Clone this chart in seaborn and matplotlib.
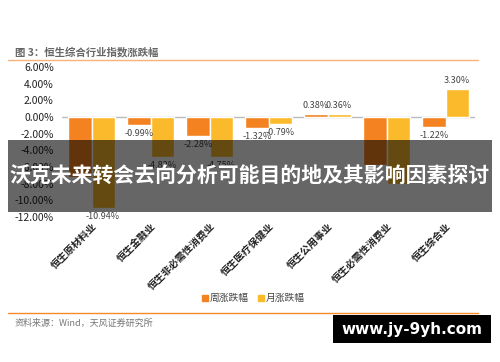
import matplotlib
matplotlib.use('Agg')
from matplotlib.lines import Line2D
from matplotlib.patches import Rectangle
import matplotlib.pyplot as plt
import pandas as pd
import seaborn as sns

categories = ['恒生原材料业', '恒生金融业', '恒生非必需性消费业', '恒生医疗保健业',
              '恒生公用事业', '恒生必需性消费业', '恒生综合业']
weekly = [-7.2, -0.99, -2.28, -1.32, 0.38, -5.8, -1.22]
monthly = [-10.94, -4.82, -4.75, -0.79, 0.36, -8.0, 3.30]
series_names = ['周涨跌幅', '月涨跌幅']
yticks = [6, 4, 2, 0, -2, -4, -6, -8, -10, -12]

# labels hidden under the banner in the source are left out
hidden = {('周涨跌幅', '恒生原材料业'), ('周涨跌幅', '恒生必需性消费业'),
          ('月涨跌幅', '恒生必需性消费业')}

my_palette = ['#F58220', '#FBBA2C']

df = pd.DataFrame({'category': categories * 2,
                   'series': [series_names[0]] * 7 + [series_names[1]] * 7,
                   'value': weekly + monthly})

sns.set_theme(style='white')
plt.rcParams['font.family'] = ['Noto Sans CJK SC', 'DejaVu Sans']
plt.rcParams['axes.unicode_minus'] = False

fig = plt.figure(figsize=(5, 3.62), dpi=100)
ax = fig.add_axes([0.124, 0.4006, 0.826, 0.4144])

sns.barplot(ax=ax, data=df, x='category', y='value', hue='series',
            hue_order=series_names, palette=my_palette, width=0.78,
            saturation=1, legend=False)

ax.set_ylim(-12, 6)
ax.set_yticks(yticks)
ax.set_yticklabels([f'{t:.2f}%' for t in yticks], fontsize=7.5, color='#222222')
ax.set_xlabel('')
ax.set_ylabel('')
ax.tick_params(axis='y', length=0, pad=6)
ax.tick_params(axis='x', length=0, pad=3)
for s in ax.spines.values():
    s.set_visible(False)
ax.axhline(0, color='#BBBBBB', linewidth=1, zorder=0)
ax.set_xticks(range(len(categories)))
ax.set_xticklabels(categories, rotation=45, ha='right', rotation_mode='anchor',
                   fontsize=7.2, fontweight='bold', color='#222222')

for cont, name in zip(ax.containers, series_names):
    labels = []
    for bar, cat in zip(cont, categories):
        if (name, cat) in hidden:
            labels.append('')
        else:
            labels.append(f'{bar.get_height():.2f}%')
    ax.bar_label(cont, labels=labels, padding=3, fontsize=6.5, color='#444444')

handles = [Line2D([0], [0], marker='s', linestyle='', color=c, markersize=4)
           for c in my_palette]
fig.legend(handles, series_names, loc='center', bbox_to_anchor=(0.505, 0.177),
           ncol=2, frameon=False, fontsize=7, handletextpad=0.0,
           handlelength=1.0, columnspacing=0.8, labelcolor='#444444')

fig.text(0.03, 0.856, '图 3：恒生综合行业指数涨跌幅', fontsize=7.5,
         fontweight='bold', color='#666666', va='center')
fig.add_artist(Line2D([0.016, 0.956], [0.834, 0.834], color='#F9B27A', linewidth=1))
fig.add_artist(Line2D([0.016, 0.956], [0.135, 0.135], color='#F58A2C', linewidth=1))
fig.text(0.03, 0.108, '资料来源：Wind，天风证券研究所', fontsize=6.5,
         color='#777777', va='center')

# overlay banner and watermark from the source picture
fig.patches.append(Rectangle((0.016, 0.414), 0.968, 0.199, transform=fig.transFigure,
                             facecolor='black', alpha=0.6, edgecolor='none', zorder=5))
fig.text(0.5, 0.514, '沃克未来转会去向分析可能目的地及其影响因素探讨', fontsize=15,
         fontweight='bold', color='white', ha='center', va='center', zorder=6)
fig.patches.append(Rectangle((0.666, 0.052), 0.316, 0.077, transform=fig.transFigure,
                             facecolor='black', edgecolor='none', zorder=5))
fig.text(0.824, 0.0905, 'www.jy-9yh.com', fontsize=11, fontweight='bold',
         color='white', ha='center', va='center', zorder=6, family='DejaVu Sans')

plt.savefig('out.png', dpi=100)
